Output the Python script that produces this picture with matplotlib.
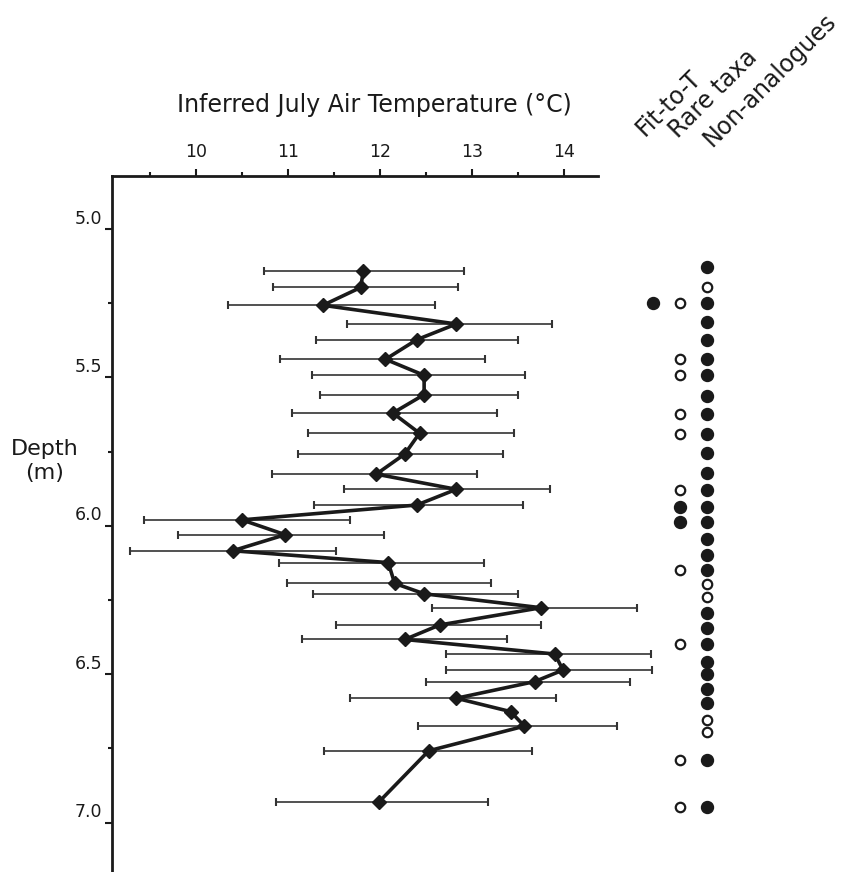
import matplotlib
matplotlib.use('Agg')
from matplotlib import pyplot as plt
from matplotlib import transforms
import numpy as np

# inferred July air temperature with sample-specific error bars (deg C) vs depth (m)
depth = [5.140, 5.197, 5.257, 5.320, 5.373, 5.439, 5.493, 5.558, 5.620, 5.688,
         5.758, 5.826, 5.877, 5.930, 5.980, 6.030, 6.084, 6.124, 6.194, 6.229,
         6.276, 6.334, 6.383, 6.432, 6.486, 6.525, 6.581, 6.626, 6.675, 6.758, 6.930]
temp = [11.82, 11.79, 11.38, 12.83, 12.40, 12.06, 12.48, 12.48, 12.14, 12.43,
        12.27, 11.96, 12.83, 12.40, 10.50, 10.97, 10.40, 12.09, 12.16, 12.48,
        13.75, 12.65, 12.27, 13.90, 13.99, 13.68, 12.83, 13.42, 13.57, 12.53, 11.99]
temp_low = [10.74, 10.84, 10.35, 11.64, 11.30, 10.91, 11.26, 11.35, 11.04, 11.22,
            11.11, 10.83, 11.61, 11.28, 9.44, 9.80, 9.28, 10.90, 10.99, 11.27,
            12.57, 11.52, 11.15, 12.72, 12.72, 12.50, 11.67, None, 12.41, 11.39, 10.87]
temp_high = [12.91, 12.85, 12.60, 13.87, 13.50, 13.14, 13.58, 13.50, 13.27, 13.46,
             13.34, 13.06, 13.85, 13.56, 11.67, 12.04, 11.52, 13.13, 13.21, 13.50,
             14.79, 13.75, 13.38, 14.95, 14.96, 14.72, 13.91, None, 14.58, 13.65, 13.17]

# sample quality indicators: 'F' = filled dot, 'O' = open dot, '' = none
dot_depth = [5.127, 5.194, 5.248, 5.312, 5.374, 5.439, 5.492, 5.563, 5.623, 5.692,
             5.756, 5.821, 5.879, 5.936, 5.986, 6.045, 6.098, 6.149, 6.196, 6.241,
             6.293, 6.343, 6.399, 6.458, 6.500, 6.551, 6.598, 6.654, 6.696, 6.789, 6.946]
fit_to_t = ['', '', 'F', '', '', '', '', '', '', '',
            '', '', '', '', '', '', '', '', '', '',
            '', '', '', '', '', '', '', '', '', '', '']
rare_taxa = ['', '', 'O', '', '', 'O', 'O', '', 'O', 'O',
             '', '', 'O', 'F', 'F', '', '', 'O', '', '',
             '', '', 'O', '', '', '', '', '', '', 'O', 'O']
non_analogues = ['F', 'O', 'F', 'F', 'F', 'F', 'F', 'F', 'F', 'F',
                 'F', 'F', 'F', 'F', 'F', 'F', 'F', 'F', 'O', 'O',
                 'F', 'F', 'F', 'F', 'F', 'F', 'F', 'O', 'O', 'F', 'F']
columns = ['Fit-to-T', 'Rare taxa', 'Non-analogues']

x_major = [10, 11, 12, 13, 14]
x_minor = [9.5, 10.5, 11.5, 12.5, 13.5]
y_major = [5.0, 5.5, 6.0, 6.5, 7.0]
y_minor = [5.25, 5.75, 6.25, 6.75]

W, H = 846, 872
fig = plt.figure(figsize=(W / 100, H / 100), dpi=100)
ink = '#1a1a1a'

ax = fig.add_axes([111.7 / W, 0, (598 - 111.7) / W, (H - 176) / H])
ax.set_xlim(9.084, 14.37)
ax.set_ylim(7.1664, 4.8214)

T = np.array(temp)
D = np.array(depth)
lo = np.array([np.nan if v is None else v for v in temp_low])
hi = np.array([np.nan if v is None else v for v in temp_high])
ok = ~np.isnan(lo)
eb = ax.errorbar(T[ok], D[ok], xerr=[T[ok] - lo[ok], hi[ok] - T[ok]], fmt='none',
                 ecolor='#333333', elinewidth=1.2, capsize=2.6, capthick=1.5, zorder=2)
for art in eb.lines[1] + eb.lines[2]:
    art.set_clip_on(False)
ax.plot(T, D, color=ink, lw=2.6, marker='D', ms=7.5, mfc=ink, mec=ink, zorder=3,
        clip_on=False)

ax.xaxis.tick_top()
ax.spines['right'].set_visible(False)
ax.spines['bottom'].set_visible(False)
for s in ['top', 'left']:
    ax.spines[s].set_linewidth(2)
    ax.spines[s].set_color(ink)
ax.set_xticks(x_major)
ax.set_xticks(x_minor, minor=True)
ax.set_yticks(y_major)
ax.set_yticklabels(['%.1f' % v for v in y_major])
ax.set_yticks(y_minor, minor=True)
ax.tick_params(axis='both', which='major', direction='out', length=5, width=1.5,
               color=ink, labelsize=12.5, labelcolor=ink)
ax.tick_params(axis='both', which='minor', direction='out', length=3, width=1.5, color=ink)
ax.tick_params(axis='x', which='major', pad=6)
ax.tick_params(axis='y', which='major', pad=2)
shift = transforms.ScaledTranslation(0, 9 / 72, fig.dpi_scale_trans)
for lab in ax.get_yticklabels():
    lab.set_transform(lab.get_transform() + shift)

# indicator columns
ax2 = fig.add_axes([640 / W, 0, 80 / W, (H - 176) / H])
ax2.set_xlim(-0.5, 2.5)
ax2.set_ylim(7.1664, 4.8214)
ax2.axis('off')
for i, flags in enumerate([fit_to_t, rare_taxa, non_analogues]):
    for d, f in zip(dot_depth, flags):
        if f == 'F':
            ax2.plot(i, d, 'o', ms=8.6, mfc=ink, mec=ink, clip_on=False)
        elif f == 'O':
            ax2.plot(i, d, 'o', ms=6.8, mfc='white', mec=ink, mew=1.6, clip_on=False)

head_xy = [(645, 137), (678, 139), (712, 147)]
for name, (hx, hy) in zip(columns, head_xy):
    fig.text(hx / W, 1 - hy / H, name, rotation=45, rotation_mode='anchor',
             ha='left', va='baseline', fontsize=17, color=ink)

fig.text(374 / W, 1 - 105 / H, 'Inferred July Air Temperature (°C)',
         ha='center', va='center', fontsize=17, color=ink)
fig.text(45 / W, 1 - 461 / H, 'Depth\n(m)', ha='center', va='center',
         multialignment='center', fontsize=16, color=ink, linespacing=1.25)

fig.savefig('out.png', dpi=100)
